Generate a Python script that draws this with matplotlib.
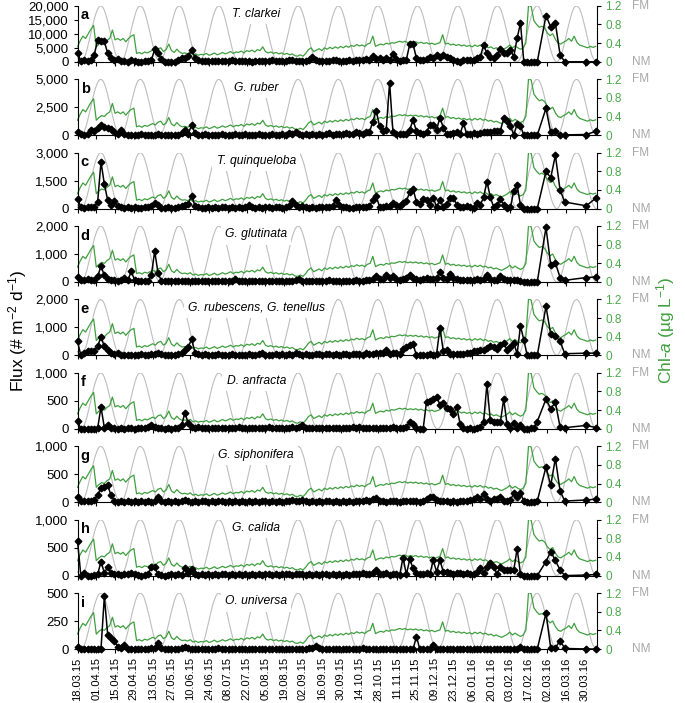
import numpy as np
import pandas as pd
import matplotlib
matplotlib.use("Agg")
import matplotlib.pyplot as plt
import matplotlib.dates as mdates
from matplotlib.ticker import FuncFormatter

plt.rcParams['font.family'] = ['Liberation Sans', 'DejaVu Sans']
plt.rcParams['mathtext.fontset'] = 'custom'
plt.rcParams['mathtext.rm'] = 'Liberation Sans'
plt.rcParams['mathtext.it'] = 'Liberation Sans:italic'
plt.rcParams['mathtext.default'] = 'regular'
plt.rcParams['font.size'] = 9.5

start = pd.Timestamp("2015-03-18")
end = pd.Timestamp("2016-04-08")

# trap cups: every 2.5 days, then a few irregular ones at the end
sample_step = 2.5
n_regular = 138
tail_days = [349, 352.5, 356, 359.5, 363, 379, 386.5]

# chl-a (ug/L), one value every 2 days from 18.03.15
chl_step = 2
chl_a = [
    0.32, 0.45, 0.55, 0.50, 0.60, 0.70, 0.78, 0.32, 0.38, 0.42,
    0.40, 0.46, 0.50, 0.68, 0.47, 0.50, 0.46, 0.50, 0.43, 0.50,
    0.55, 0.58, 0.18, 0.20, 0.17, 0.21, 0.19, 0.22, 0.25, 0.22,
    0.28, 0.30, 0.22, 0.26, 0.38, 0.24, 0.20, 0.27, 0.21, 0.18,
    0.19, 0.17, 0.20, 0.15, 0.17, 0.14, 0.16, 0.15, 0.18, 0.14,
    0.16, 0.19, 0.15, 0.17, 0.20, 0.17, 0.19, 0.22, 0.18, 0.21,
    0.20, 0.23, 0.19, 0.24, 0.22, 0.25, 0.21, 0.26, 0.24, 0.32,
    0.22, 0.19, 0.21, 0.18, 0.20, 0.17, 0.19, 0.16, 0.18, 0.15,
    0.17, 0.13, 0.12, 0.15, 0.12, 0.18, 0.26, 0.30, 0.22, 0.25,
    0.28, 0.24, 0.30, 0.27, 0.31, 0.28, 0.32, 0.29, 0.33, 0.30,
    0.34, 0.31, 0.35, 0.33, 0.37, 0.34, 0.36, 0.33, 0.38, 0.40,
    0.55, 0.33, 0.36, 0.38, 0.36, 0.40, 0.38, 0.41, 0.40, 0.42,
    0.44, 0.42, 0.44, 0.41, 0.43, 0.41, 0.43, 0.40, 0.42, 0.39,
    0.41, 0.38, 0.40, 0.37, 0.39, 0.41, 0.58, 0.38, 0.40, 0.36,
    0.38, 0.35, 0.37, 0.34, 0.36, 0.33, 0.35, 0.32, 0.36, 0.33,
    0.36, 0.32, 0.34, 0.30, 0.32, 0.28, 0.30, 0.27, 0.25, 0.28,
    0.31, 0.36, 0.30, 0.34, 0.30, 0.27, 0.30, 0.40, 1.22, 1.18,
    0.88, 0.80, 0.74, 0.76, 0.72, 0.62, 0.56, 0.60, 0.48, 0.40,
    0.38, 0.42, 0.45, 0.50, 0.44, 0.55, 0.42, 0.36, 0.34, 0.32,
    0.30, 0.33, 0.31, 0.33,
]

# moon illumination, daily from 18.03.15 (0 = new moon, 1 = full moon)
moon_illum = [
    0.07, 0.03, 0.00,
    0.00, 0.03, 0.07, 0.13, 0.21, 0.31, 0.41, 0.51, 0.62, 0.72, 0.81, 0.88, 0.94, 0.98, 1.00, 0.99, 0.97, 0.92, 0.85, 0.77, 0.67, 0.57, 0.46, 0.36, 0.26, 0.17, 0.10, 0.05, 0.01,
    0.00, 0.01, 0.05, 0.10, 0.17, 0.26, 0.36, 0.46, 0.57, 0.67, 0.76, 0.85, 0.92, 0.97, 0.99, 1.00, 0.98, 0.95, 0.89, 0.81, 0.72, 0.62, 0.52, 0.41, 0.31, 0.22, 0.13, 0.07, 0.03, 0.00,
    0.01, 0.05, 0.10, 0.17, 0.26, 0.36, 0.46, 0.57, 0.67, 0.76, 0.85, 0.92, 0.97, 0.99, 1.00, 0.98, 0.95, 0.89, 0.81, 0.72, 0.62, 0.52, 0.41, 0.31, 0.22, 0.13, 0.07, 0.03, 0.00,
    0.00, 0.03, 0.07, 0.13, 0.21, 0.31, 0.41, 0.51, 0.62, 0.72, 0.81, 0.88, 0.94, 0.98, 1.00, 0.99, 0.97, 0.92, 0.85, 0.77, 0.67, 0.57, 0.46, 0.36, 0.26, 0.17, 0.10, 0.05, 0.01, 0.00,
    0.01, 0.05, 0.10, 0.17, 0.26, 0.36, 0.46, 0.57, 0.67, 0.76, 0.85, 0.92, 0.97, 0.99, 1.00, 0.98, 0.95, 0.89, 0.81, 0.72, 0.62, 0.52, 0.41, 0.31, 0.22, 0.13, 0.07, 0.03, 0.00,
    0.00, 0.03, 0.07, 0.13, 0.21, 0.31, 0.41, 0.51, 0.62, 0.72, 0.81, 0.88, 0.94, 0.98, 1.00, 0.99, 0.97, 0.92, 0.85, 0.77, 0.67, 0.57, 0.46, 0.36, 0.26, 0.17, 0.10, 0.05, 0.01, 0.00,
    0.00, 0.03, 0.07, 0.13, 0.21, 0.31, 0.41, 0.51, 0.62, 0.72, 0.81, 0.88, 0.94, 0.98, 1.00, 0.99, 0.97, 0.92, 0.85, 0.77, 0.67, 0.57, 0.46, 0.36, 0.26, 0.17, 0.10, 0.05, 0.01, 0.00,
    0.01, 0.05, 0.10, 0.17, 0.26, 0.36, 0.46, 0.57, 0.67, 0.76, 0.85, 0.92, 0.97, 0.99, 1.00, 0.98, 0.95, 0.89, 0.81, 0.72, 0.62, 0.52, 0.41, 0.31, 0.22, 0.13, 0.07, 0.03, 0.00,
    0.00, 0.03, 0.07, 0.13, 0.21, 0.31, 0.41, 0.51, 0.62, 0.72, 0.81, 0.88, 0.94, 0.98, 1.00, 0.99, 0.97, 0.92, 0.85, 0.77, 0.67, 0.57, 0.46, 0.36, 0.26, 0.17, 0.10, 0.05, 0.01, 0.00,
    0.00, 0.03, 0.07, 0.13, 0.21, 0.31, 0.41, 0.51, 0.62, 0.72, 0.81, 0.88, 0.94, 0.98, 1.00, 0.99, 0.97, 0.92, 0.85, 0.77, 0.67, 0.57, 0.46, 0.36, 0.26, 0.17, 0.10, 0.05, 0.01, 0.00,
    0.01, 0.05, 0.10, 0.17, 0.26, 0.36, 0.46, 0.57, 0.67, 0.76, 0.85, 0.92, 0.97, 0.99, 1.00, 0.98, 0.95, 0.89, 0.81, 0.72, 0.62, 0.52, 0.41, 0.31, 0.22, 0.13, 0.07, 0.03, 0.00,
    0.00, 0.03, 0.07, 0.13, 0.21, 0.31, 0.41, 0.51, 0.62, 0.72, 0.81, 0.88, 0.94, 0.98, 1.00, 0.99, 0.97, 0.92, 0.85, 0.77, 0.67, 0.57, 0.46, 0.36, 0.26, 0.17, 0.10, 0.05, 0.01, 0.00,
    0.01, 0.05, 0.10, 0.17, 0.26, 0.36, 0.46, 0.57, 0.67, 0.76, 0.85, 0.92, 0.97, 0.99, 1.00, 0.98, 0.95, 0.89, 0.81, 0.72, 0.62, 0.52, 0.41, 0.31, 0.22, 0.13, 0.07, 0.03, 0.00,
    0.00,
]

# fluxes (# m-2 d-1), one value per cup
flux_a = [3200, 200, 500, 400, 800, 2500, 7800, 7600, 7300, 3000,
          1200, 600, 1000, 200, 300, 100, 600, 200, 100, 100,
          300, 300, 500, 4500, 3000, 1000, 100, 0, 0, 0,
          800, 1500, 1400, 1900, 4200, 1500, 500, 300, 300, 200,
          300, 200, 400, 300, 200, 300, 500, 200, 300, 400,
          200, 300, 100, 300, 200, 400, 300, 200, 500, 300,
          400, 200, 300, 500, 800, 400, 300, 200, 400, 600,
          1600, 800, 300, 400, 200, 300, 500, 700, 300, 400,
          300, 500, 400, 700, 500, 800, 1000, 600, 2200, 1000,
          1200, 800, 1500, 600, 2800, 1000, 300, 500, 800, 6300,
          6300, 1200, 800, 500, 1000, 1800, 1200, 2600, 1800, 2400,
          1800, 1200, 800, 200, 0, 600, 800, 800, 600, 1200,
          1600, 6000, 3000, 1800, 1200, 2400, 4500, 3300, 3000, 4200,
          1800, 8500, 13800, 0, 0, 0, 0, 0,
          16500, 12500, 13800, 2500, 0, 0, 0]
flux_b = [270, 150, 50, 100, 420, 360, 600, 950, 750, 650,
          550, 300, 150, 450, 100, 50, 0, 50, 0, 100,
          50, 0, 0, 50, 100, 0, 0, 50, 0, 0,
          50, 200, 420, 150, 880, 200, 50, 0, 100, 50,
          0, 50, 0, 100, 50, 0, 50, 100, 0, 50,
          100, 0, 50, 0, 100, 50, 0, 50, 100, 0,
          50, 100, 50, 200, 150, 250, 100, 50, 100, 0,
          100, 50, 150, 50, 100, 200, 50, 100, 150, 100,
          200, 100, 150, 300, 200, 150, 250, 300, 1200, 2200,
          800, 360, 500, 4700, 270, 100, 150, 100, 150, 500,
          1360, 360, 200, 150, 300, 880, 880, 500, 1580, 670,
          100, 150, 200, 300, 100, 1060, 100, 150, 200, 150,
          200, 300, 250, 300, 400, 350, 400, 1500, 1300, 800,
          50, 970, 820, 0, 0, 0, 0, 0,
          2400, 270, 360, 30, 30, 60, 360]
flux_c = [530, 90, 50, 60, 80, 100, 350, 2500, 1320, 440,
          180, 390, 120, 60, 50, 80, 40, 60, 30, 50,
          60, 80, 120, 320, 180, 50, 40, 60, 30, 50,
          60, 150, 200, 260, 700, 140, 60, 40, 50, 70,
          50, 60, 40, 80, 60, 50, 70, 40, 60, 50,
          80, 180, 60, 40, 70, 50, 60, 80, 50, 60,
          70, 50, 90, 150, 390, 200, 100, 120, 60, 50,
          60, 40, 70, 100, 60, 80, 150, 475, 200, 80,
          60, 50, 40, 80, 60, 70, 100, 150, 440, 670,
          100, 80, 150, 120, 320, 200, 150, 300, 400, 880,
          1060, 350, 250, 500, 480, 200, 580, 100, 475, 100,
          250, 580, 580, 200, 100, 60, 150, 100, 50, 320,
          200, 600, 1450, 620, 80, 180, 530, 200, 50, 60,
          950, 1250, 180, 0, 0, 0, 0, 0,
          2000, 1650, 2850, 1000, 350, 150, 580]
flux_d = [180, 60, 60, 120, 60, 60, 200, 560, 240, 100,
          60, 80, 30, 60, 160, 60, 380, 80, 20, 30,
          30, 40, 240, 1100, 320, 40, 30, 30, 40, 30,
          40, 30, 30, 40, 50, 40, 30, 40, 30, 40,
          30, 40, 30, 40, 50, 40, 30, 100, 40, 30,
          40, 30, 40, 50, 30, 40, 30, 40, 50, 30,
          40, 30, 50, 40, 30, 60, 120, 40, 30, 40,
          30, 40, 50, 30, 40, 60, 40, 50, 30, 40,
          50, 40, 30, 60, 40, 50, 60, 80, 100, 200,
          100, 120, 240, 150, 200, 100, 80, 100, 150, 260,
          150, 120, 80, 100, 150, 120, 100, 150, 360, 150,
          100, 300, 150, 100, 80, 60, 80, 60, 80, 100,
          80, 120, 240, 100, 80, 60, 200, 100, 80, 60,
          80, 60, 40, 0, 0, 0, 0, 0,
          1950, 620, 680, 160, 60, 160, 180]
flux_e = [500, 0, 100, 140, 140, 170, 320, 670, 320, 200,
          100, 50, 100, 0, 20, 30, 20, 30, 20, 40,
          30, 20, 40, 50, 100, 40, 20, 30, 20, 30,
          60, 100, 200, 300, 580, 100, 40, 30, 40, 20,
          30, 20, 40, 30, 20, 30, 40, 20, 30, 20,
          30, 50, 20, 30, 40, 80, 30, 20, 30, 40,
          30, 40, 20, 50, 30, 100, 40, 30, 50, 20,
          30, 40, 60, 30, 40, 50, 30, 40, 30, 50,
          40, 30, 50, 60, 40, 30, 80, 50, 60, 70,
          80, 100, 200, 60, 100, 80, 60, 225, 300, 380,
          400, 0, 20, 30, 20, 40, 30, 50, 990, 140,
          200, 60, 40, 50, 40, 60, 80, 100, 140, 170,
          200, 180, 250, 320, 300, 220, 380, 440, 200, 300,
          440, 60, 1050, 550, 0, 0, 0, 0,
          1750, 760, 700, 500, 60, 80, 80]
flux_f = [140, 0, 0, 0, 0, 0, 10, 390, 20, 60,
          20, 10, 0, 10, 0, 20, 10, 0, 10, 20,
          10, 40, 60, 40, 20, 10, 0, 10, 0, 10,
          20, 60, 285, 100, 40, 20, 30, 20, 10, 20,
          10, 20, 10, 20, 10, 20, 10, 20, 30, 10,
          20, 10, 20, 10, 20, 10, 20, 30, 10, 20,
          10, 20, 10, 20, 30, 10, 40, 60, 20, 10,
          20, 10, 20, 10, 20, 10, 20, 10, 20, 10,
          20, 10, 30, 20, 40, 20, 10, 20, 10, 20,
          10, 20, 10, 20, 30, 20, 10, 20, 30, 120,
          90, 20, 0, 0, 485, 500, 530, 575, 430, 460,
          380, 350, 260, 390, 90, 20, 0, 10, 0, 10,
          30, 120, 800, 150, 120, 120, 120, 530, 80, 20,
          100, 20, 60, 0, 0, 10, 20, 130,
          530, 360, 470, 30, 20, 60, 20]
flux_g = [90, 30, 30, 20, 30, 40, 130, 260, 280, 300,
          120, 30, 10, 20, 10, 20, 10, 20, 10, 20,
          10, 20, 10, 20, 90, 20, 10, 20, 10, 20,
          10, 30, 40, 20, 10, 20, 10, 20, 30, 10,
          20, 10, 20, 30, 10, 20, 10, 20, 10, 20,
          10, 20, 10, 20, 10, 30, 20, 10, 20, 10,
          20, 10, 20, 30, 40, 20, 30, 40, 20, 10,
          20, 10, 20, 10, 30, 20, 10, 20, 10, 20,
          10, 20, 10, 20, 30, 20, 40, 20, 60, 70,
          30, 20, 10, 20, 30, 20, 10, 20, 30, 20,
          30, 20, 10, 20, 60, 90, 100, 40, 20, 30,
          20, 10, 20, 10, 20, 30, 20, 40, 60, 90,
          60, 150, 60, 30, 50, 60, 90, 30, 20, 40,
          160, 90, 160, 20, 0, 0, 10, 20,
          630, 300, 780, 200, 20, 40, 55]
flux_h = [620, 0, 40, 0, 0, 10, 20, 250, 50, 150,
          50, 30, 20, 10, 20, 30, 50, 20, 10, 0,
          10, 20, 150, 150, 20, 10, 0, 10, 20, 10,
          20, 10, 130, 50, 110, 20, 10, 20, 10, 20,
          10, 20, 10, 20, 30, 10, 20, 10, 20, 10,
          20, 10, 20, 10, 20, 10, 20, 30, 10, 20,
          10, 20, 30, 20, 10, 20, 30, 20, 10, 20,
          10, 20, 10, 30, 20, 10, 20, 10, 20, 10,
          20, 10, 20, 30, 20, 40, 20, 30, 40, 100,
          30, 20, 40, 10, 30, 20, 10, 320, 20, 290,
          130, 40, 30, 20, 40, 30, 270, 70, 270, 70,
          60, 40, 30, 50, 40, 30, 40, 20, 30, 60,
          130, 50, 160, 220, 160, 30, 150, 100, 100, 100,
          100, 480, 30, 0, 0, 0, 0, 0,
          250, 430, 270, 100, 0, 10, 20]
flux_i = [15, 0, 0, 0, 0, 0, 0, 0, 470, 125,
          95, 70, 20, 5, 40, 0, 0, 0, 0, 0,
          0, 0, 5, 10, 50, 10, 0, 0, 0, 0,
          0, 10, 20, 5, 0, 0, 0, 0, 0, 0,
          0, 0, 10, 0, 0, 0, 0, 0, 0, 0,
          0, 0, 0, 0, 0, 0, 0, 0, 0, 0,
          0, 0, 0, 0, 0, 0, 0, 0, 0, 5,
          10, 30, 5, 0, 0, 0, 0, 0, 0, 0,
          0, 0, 0, 0, 0, 5, 0, 0, 0, 0,
          0, 0, 0, 0, 0, 0, 0, 0, 0, 0,
          0, 110, 0, 0, 0, 0, 40, 0, 0, 0,
          0, 0, 0, 0, 0, 0, 0, 0, 0, 0,
          0, 0, 0, 0, 0, 0, 0, 0, 0, 0,
          0, 0, 15, 0, 0, 0, 0, 0,
          320, 10, 10, 75, 5, 0, 0]

letters = ["a", "b", "c", "d", "e", "f", "g", "h", "i"]
species = ["T. clarkei", "G. ruber", "T. quinqueloba", "G. glutinata",
           "G. rubescens, G. tenellus", "D. anfracta", "G. siphonifera",
           "G. calida", "O. universa"]
flux = [flux_a, flux_b, flux_c, flux_d, flux_e, flux_f, flux_g, flux_h, flux_i]
flux_ticks = [[0, 5000, 10000, 15000, 20000], [0, 2500, 5000], [0, 1500, 3000],
              [0, 1000, 2000], [0, 1000, 2000], [0, 500, 1000], [0, 500, 1000],
              [0, 500, 1000], [0, 250, 500]]
chl_ticks = [0, 0.4, 0.8, 1.2]

days = np.concatenate([np.arange(n_regular) * sample_step, tail_days])
x_flux = (start + pd.to_timedelta(days, unit="D")).to_numpy()
x_chl = (start + pd.to_timedelta(np.arange(len(chl_a)) * chl_step, unit="D")).to_numpy()
x_moon = (start + pd.to_timedelta(np.arange(len(moon_illum)), unit="D")).to_numpy()
date_ticks = pd.date_range("2015-03-18", "2016-03-30", freq="14D").to_numpy()

green = "#3f9f3f"
green_lab = "#4caa4c"
grey_moon = "#bdbdbd"
grey_lab = "#a8a8a8"

fig = plt.figure(figsize=(6.85, 7.03), dpi=100)
left, width, height = 77.5 / 685, 519.5 / 685, 56 / 703

for j in range(9):
    bottom = (703 - (649 - (8 - j) * 73.4)) / 703
    ax = fig.add_axes([left, bottom, width, height])
    axm = ax.twinx()
    axc = ax.twinx()
    ax.set_zorder(3)
    axc.set_zorder(2)
    axm.set_zorder(1)
    ax.patch.set_visible(False)

    # moon phase in the background
    axm.plot(x_moon, moon_illum, color=grey_moon, lw=0.8)
    axm.set_ylim(0, 1)
    axm.axis("off")
    axm.text(0.344, 0.85, species[j], transform=axm.transAxes, ha="center",
             va="center", style="italic", fontsize=8.7, zorder=5,
             bbox=dict(facecolor="white", edgecolor="none", pad=3))

    # chl-a
    axc.plot(x_chl, chl_a, color=green, lw=0.9)
    axc.set_ylim(0, 1.2)
    axc.set_yticks(chl_ticks)
    axc.yaxis.set_major_formatter(FuncFormatter(lambda v, p: "0" if v == 0 else f"{v:.1f}"))
    axc.tick_params(axis="y", colors="black", labelcolor=green_lab, direction="out",
                    length=3, width=0.8, pad=3, labelsize=8.5)
    for s in ["top", "bottom", "left"]:
        axc.spines[s].set_visible(False)
    axc.spines["right"].set_linewidth(0.8)
    axc.text(1.067, 1.0, "FM", transform=axc.transAxes, ha="left", va="center",
             color=grey_lab, fontsize=8.5)
    axc.text(1.067, 0.0, "NM", transform=axc.transAxes, ha="left", va="center",
             color=grey_lab, fontsize=8.5)

    # flux
    ax.plot(x_flux, flux[j], color="black", lw=1.1, marker="D", ms=3.4, clip_on=False, zorder=3)
    ax.set_ylim(0, flux_ticks[j][-1])
    ax.set_yticks(flux_ticks[j])
    ax.yaxis.set_major_formatter(FuncFormatter(lambda v, p: f"{v:,.0f}"))
    ax.set_xlim(start, end)
    ax.set_xticks(date_ticks)
    ax.xaxis.set_major_formatter(mdates.DateFormatter("%d.%m.%y"))
    ax.tick_params(direction="out", length=3, width=0.8)
    ax.spines["top"].set_visible(False)
    ax.spines["right"].set_visible(False)
    ax.spines["left"].set_linewidth(0.8)
    ax.spines["bottom"].set_linewidth(0.8)
    if j < 8:
        ax.tick_params(axis="x", labelbottom=False)
    else:
        ax.tick_params(axis="x", labelrotation=90, pad=3, labelsize=8)
    ax.text(0.006, 0.83, letters[j], transform=ax.transAxes, ha="left", va="center",
            fontweight="bold", fontsize=10.5)

fig.text(0.026, 0.53, "Flux (# m$^{-2}$ d$^{-1}$)", rotation=90, ha="center", va="center",
         fontsize=12.5)
fig.text(0.971, 0.53, "Chl-$\\mathit{a}$ (µg L$^{-1}$)", rotation=90, ha="center", va="center",
         fontsize=12.5, color=green)

fig.savefig("out.png", dpi=100)
